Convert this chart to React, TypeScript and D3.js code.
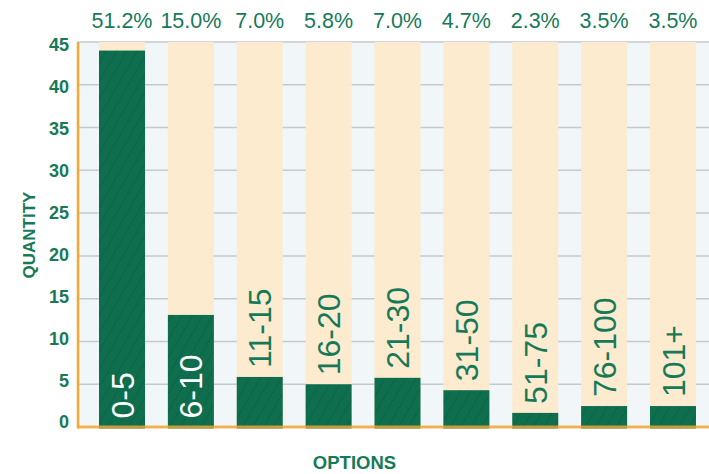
import React, { useEffect } from "react";
import * as d3 from "d3";

const categories = ["0-5", "6-10", "11-15", "16-20", "21-30", "31-50", "51-75", "76-100", "101+"];
const quantities = [44, 13.1, 5.85, 5.0, 5.75, 4.3, 1.65, 2.45, 2.45];
const percentLabels = ["51.2%", "15.0%", "7.0%", "5.8%", "7.0%", "4.7%", "2.3%", "3.5%", "3.5%"];
const yTicks = [0, 5, 10, 15, 20, 25, 30, 35, 40, 45];

const W = 709;
const H = 474;
const GREEN = "#0e6e4e";
const TEXT_GREEN = "#167a58";
const CREAM = "#fdebd0";
const BG = "#f1f6f9";
const GRID = "#c6c9cc";
const ORANGE = "#f6a833";
const FONT = "'Liberation Sans', Arial, Helvetica, sans-serif";

export default function App() {
  useEffect(() => {
    document.body.style.margin = "0";
  }, []);

  const left = 78;
  const top = 42;
  const bottom = 427;
  const x = d3
    .scaleBand<string>()
    .domain(categories)
    .range([left, 717])
    .paddingInner(0.332)
    .paddingOuter(0.305);
  const y = d3.scaleLinear().domain([0, 45]).range([bottom, top]);
  const yLabel = d3.scaleLinear().domain([0, 45]).range([422, 45]);
  const bw = x.bandwidth();

  return (
    <svg width={W} height={H} style={{ display: "block" }} fontFamily={FONT}>
      <defs>
        <pattern id="hatch" patternUnits="userSpaceOnUse" width="9" height="9" patternTransform="rotate(30)">
          <rect width="9" height="9" fill={GREEN} />
          <line x1="0" y1="0" x2="0" y2="9" stroke="#000" strokeOpacity="0.09" strokeWidth="2" />
        </pattern>
      </defs>
      <rect x={left} y={top} width={W - left} height={bottom - top} fill={BG} />
      {yTicks.map((t) => (
        <line key={"g" + t} x1={left} x2={W} y1={y(t)} y2={y(t)} stroke={GRID} strokeWidth={1.5} />
      ))}
      {categories.map((c) => (
        <rect key={"bg" + c} x={x(c)} y={top} width={bw} height={bottom - top} fill={CREAM} />
      ))}
      {categories.map((c, i) => (
        <rect
          key={"b" + c}
          x={x(c)}
          y={y(quantities[i])}
          width={bw}
          height={bottom - y(quantities[i]) + 1.5}
          fill="url(#hatch)"
        />
      ))}
      <line x1={left} x2={W} y1={bottom} y2={bottom} stroke={ORANGE} strokeOpacity={0.8} strokeWidth={3} />
      <line x1={left} x2={left} y1={top} y2={bottom + 1.5} stroke={ORANGE} strokeWidth={2.5} />
      {categories.map((c, i) => {
        const inside = quantities[i] >= 10;
        const cx = (x(c) as number) + bw / 2;
        const ty = inside ? bottom - 8.5 : y(quantities[i]) - 9;
        return (
          <text
            key={"l" + c}
            transform={`translate(${cx},${ty}) rotate(-90)`}
            dy="0.36em"
            fontSize={32}
            fill={inside ? "#ffffff" : TEXT_GREEN}
            textAnchor="start"
          >
            {c}
          </text>
        );
      })}
      {categories.map((c, i) => (
        <text
          key={"p" + c}
          x={(x(c) as number) + bw / 2}
          y={28}
          fontSize={21.5}
          fill={TEXT_GREEN}
          textAnchor="middle"
        >
          {percentLabels[i]}
        </text>
      ))}
      {yTicks.map((t) => (
        <text
          key={"t" + t}
          x={69}
          y={yLabel(t)}
          dy="0.36em"
          fontSize={18}
          fontWeight="bold"
          fill={TEXT_GREEN}
          textAnchor="end"
        >
          {t}
        </text>
      ))}
      <text
        transform="translate(29,235) rotate(-90)"
        dy="0.36em"
        fontSize={17}
        fontWeight="bold"
        fill={TEXT_GREEN}
        textAnchor="middle"
      >
        QUANTITY
      </text>
      <text x={354.5} y={469} fontSize={18.5} fontWeight="bold" fill={TEXT_GREEN} textAnchor="middle">
        OPTIONS
      </text>
    </svg>
  );
}
